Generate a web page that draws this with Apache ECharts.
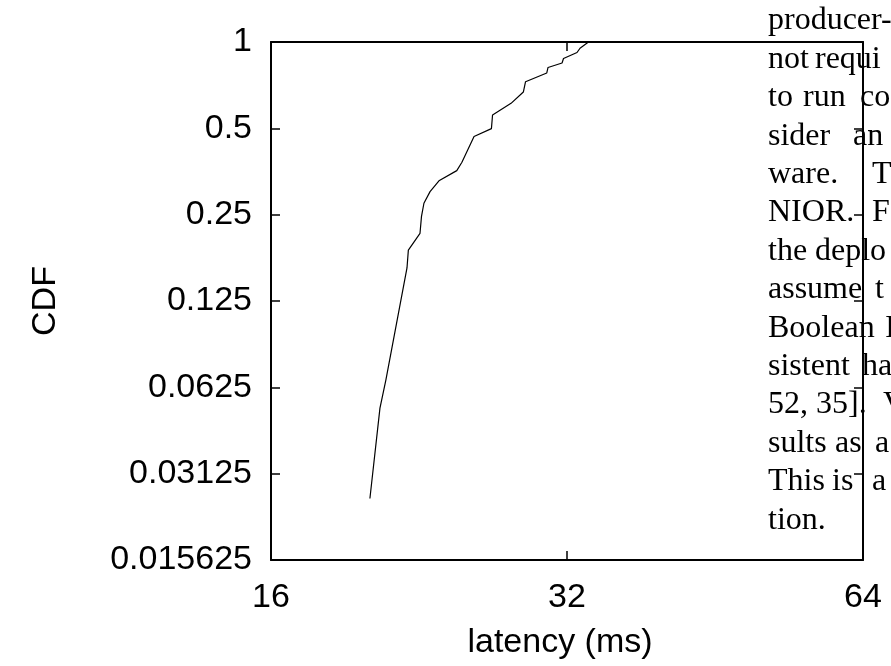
<!DOCTYPE html>
<html>
<head>
<meta charset="utf-8">
<script src="https://cdn.jsdelivr.net/npm/echarts@6/dist/echarts.min.js"></script>
<style>html,body{margin:0;padding:0;background:#fff}#c{width:891px;height:666px}</style>
</head>
<body>
<div id="c"></div>
<script>
// ---- data ----
const latency = [20.17, 20.65, 20.94, 22.0, 22.07, 22.68, 22.76, 22.89, 23.22, 23.71, 24.72, 25.02, 25.5, 25.74, 26.81, 26.88, 28.07, 28.89, 29.04, 30.52, 30.61, 31.63, 31.74, 32.76, 32.99, 33.65];
const cdf = [0.0256, 0.0529, 0.0664, 0.163, 0.188, 0.215, 0.2465, 0.274, 0.3008, 0.328, 0.356, 0.381, 0.437, 0.468, 0.499, 0.5565, 0.611, 0.669, 0.727, 0.780, 0.815, 0.845, 0.876, 0.919, 0.951, 1.0];
const xTickLabels = ['16', '32', '64'];
const yTickLabels = ['0.015625', '0.03125', '0.0625', '0.125', '0.25', '0.5', '1'];
const xName = 'latency (ms)';
const yName = 'CDF';
// overlapping page text (pieces of each line)
const pageText = [
  [['producer-', 768]],
  [['not', 768], ['requi', 815]],
  [['to', 768], ['run', 803], ['co', 860]],
  [['sider', 768], ['an', 853]],
  [['ware.', 768], ['T', 872]],
  [['NIOR.', 768], ['F', 872]],
  [['the', 768], ['deplo', 815]],
  [['assume', 768], ['t', 875]],
  [['Boolean', 768], ['I', 885]],
  [['sistent', 768], ['ha', 862]],
  [['52,', 768], ['35].', 816], ['V', 883]],
  [['sults', 768], ['as', 835], ['a', 875]],
  [['This', 768], ['is', 832], ['a', 872]],
  [['tion.', 768]]
];

const chart = echarts.init(document.getElementById('c'), null, {renderer: 'canvas'});
const data = latency.map((v, i) => [v, cdf[i]]);
const sans = 'Liberation Sans, Arial, sans-serif';
const fs = 34;

const graphics = [];
pageText.forEach((line, k) => {
  const top = 5 + k * 38.4;
  line.forEach(([t, x]) => {
    graphics.push({
      type: 'text', left: x, top: top, z: -10, silent: true,
      style: {text: t, fill: '#000', font: '32px "Liberation Serif", "Times New Roman", serif'}
    });
  });
});

const xFmt = v => xTickLabels[Math.round(Math.log2(v / 16))] || '';
const yFmt = v => yTickLabels[Math.round(Math.log2(v)) + 6] || '';

const axisCommon = {
  axisLine: {show: true, lineStyle: {color: '#000', width: 2}},
  axisTick: {show: true, inside: true, length: 9, lineStyle: {color: '#000', width: 1.5}},
  splitLine: {show: false},
  minorTick: {show: false}
};

chart.setOption({
  animation: false,
  backgroundColor: 'transparent',
  grid: {left: 271, right: 28, top: 42, bottom: 106, containLabel: false},
  graphic: graphics,
  xAxis: [
    Object.assign({
      type: 'log', logBase: 2, min: 16, max: 64, interval: 1, position: 'bottom',
      name: xName, nameLocation: 'middle', nameGap: 66,
      nameTextStyle: {fontFamily: sans, fontSize: fs, color: '#000', padding: [0, 14, 0, 0]},
      axisLabel: {show: true, formatter: xFmt, fontFamily: sans, fontSize: fs, color: '#000', margin: 21, showMinLabel: true, showMaxLabel: true}
    }, axisCommon),
    Object.assign({
      type: 'log', logBase: 2, min: 16, max: 64, interval: 1, position: 'top',
      axisLabel: {show: false}
    }, axisCommon)
  ],
  yAxis: [
    Object.assign({
      type: 'log', logBase: 2, min: 0.015625, max: 1, interval: 1, position: 'left',
      name: yName, nameLocation: 'middle', nameGap: 208,
      nameTextStyle: {fontFamily: sans, fontSize: fs, color: '#000'},
      axisLabel: {show: true, formatter: yFmt, fontFamily: sans, fontSize: fs, color: '#000', margin: 19, showMinLabel: true, showMaxLabel: true}
    }, axisCommon),
    Object.assign({
      type: 'log', logBase: 2, min: 0.015625, max: 1, interval: 1, position: 'right',
      axisLabel: {show: false}
    }, axisCommon)
  ],
  series: [{
    type: 'line', data: data, xAxisIndex: 0, yAxisIndex: 0,
    symbol: 'none', smooth: false,
    lineStyle: {color: '#000', width: 1.2}
  }]
});
</script>
</body>
</html>
